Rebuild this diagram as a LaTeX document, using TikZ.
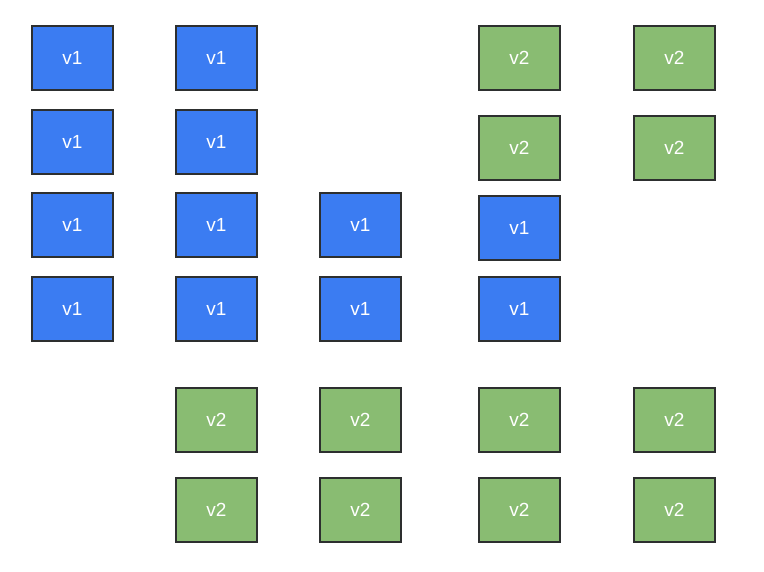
\documentclass[tikz,border=0pt]{standalone}
\usepackage{fontspec}
\setmainfont{Liberation Sans}
\definecolor{vblue}{RGB}{59,124,242}
\definecolor{vgreen}{RGB}{137,188,114}
\definecolor{vedge}{RGB}{45,47,47}
\begin{document}
\begin{tikzpicture}[
    x=1pt, y=-1pt,
    every node/.style={font=\fontsize{19}{22}\selectfont, text=white, align=center},
    oldbox/.style={rectangle, draw=vedge, line width=1.2pt, fill=vblue,
                   minimum width=81pt, minimum height=64pt, inner sep=0pt},
    newbox/.style={rectangle, draw=vedge, line width=1.2pt, fill=vgreen,
                   minimum width=81pt, minimum height=64pt, inner sep=0pt},
]
\useasboundingbox (0,0) rectangle (764,571);
% blue v1 block
\node[oldbox] (a1) at (72.5, 58)  {v1};
\node[oldbox] (a2) at (72.5, 142) {v1};
\node[oldbox] (a3) at (72.5, 225) {v1};
\node[oldbox] (a4) at (72.5, 309) {v1};
\node[oldbox] (b1) at (216.5, 58)  {v1};
\node[oldbox] (b2) at (216.5, 142) {v1};
\node[oldbox] (b3) at (216.5, 225) {v1};
\node[oldbox] (b4) at (216.5, 309) {v1};
\node[oldbox] (c3) at (360.5, 225) {v1};
\node[oldbox] (c4) at (360.5, 309) {v1};
\node[oldbox] (d3) at (519.5, 228) {v1};
\node[oldbox] (d4) at (519.5, 309) {v1};
% green v2 top right
\node[newbox] (d1) at (519.5, 58)  {v2};
\node[newbox] (d2) at (519.5, 148) {v2};
\node[newbox] (e1) at (674.5, 58)  {v2};
\node[newbox] (e2) at (674.5, 148) {v2};
% green v2 bottom rows
\node[newbox] (b5) at (216.5, 420) {v2};
\node[newbox] (b6) at (216.5, 510) {v2};
\node[newbox] (c5) at (360.5, 420) {v2};
\node[newbox] (c6) at (360.5, 510) {v2};
\node[newbox] (d5) at (519.5, 420) {v2};
\node[newbox] (d6) at (519.5, 510) {v2};
\node[newbox] (e5) at (674.5, 420) {v2};
\node[newbox] (e6) at (674.5, 510) {v2};
\end{tikzpicture}
\end{document}
